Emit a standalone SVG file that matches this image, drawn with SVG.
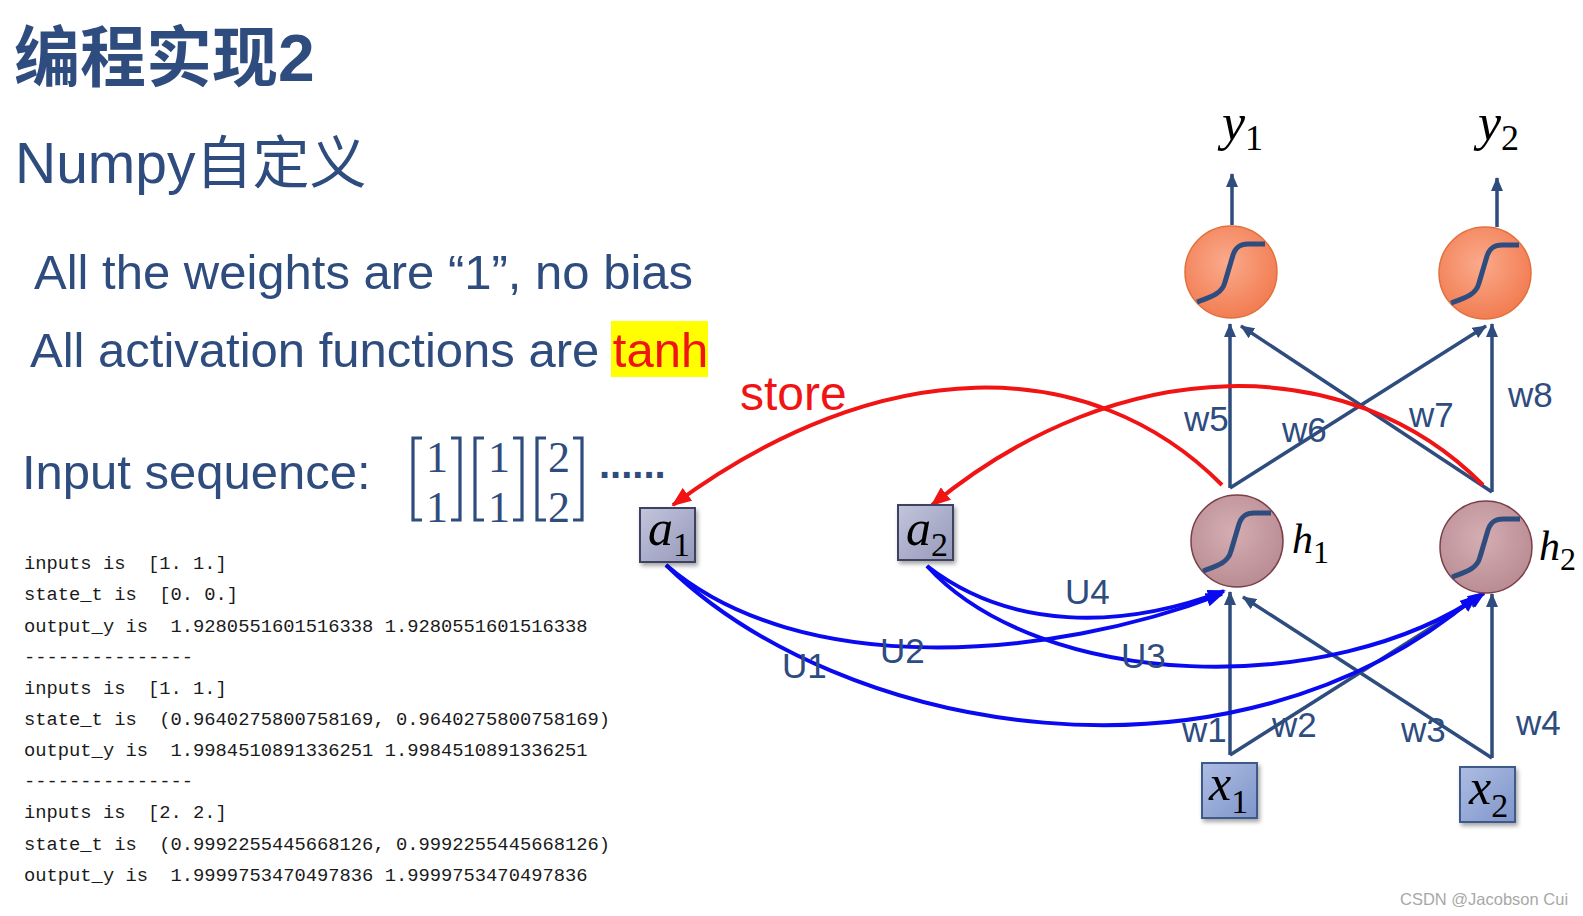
<svg xmlns="http://www.w3.org/2000/svg" width="1583" height="916" viewBox="0 0 1583 916">
<style>
.t{font-family:"Liberation Sans","Noto Sans CJK SC",sans-serif;fill:#2E4C7E}
.code{font-family:"Liberation Mono","DejaVu Sans Mono",monospace;font-size:18.8px;fill:#1a1a1a;white-space:pre}
.m{font-family:"Liberation Serif",serif;fill:#000}
.mi{font-style:italic}
.w{font-family:"Liberation Sans",sans-serif;font-size:35px;fill:#2E4C7E}
.dk{fill:none;stroke:#2E4C7E;stroke-width:3.5}
.red{fill:none;stroke:#F01414;stroke-width:4}
.blu{fill:none;stroke:#0A0AF0;stroke-width:4}
.sig{fill:none;stroke:#2E4C7E;stroke-width:5;stroke-linecap:butt}
.br{fill:none;stroke:#2E4C7E;stroke-width:3.2}
</style>
<defs>
<radialGradient id="gOut" cx="0.45" cy="0.4" r="0.6">
<stop offset="0" stop-color="#FAAA8C"/><stop offset="1" stop-color="#F27D52"/>
</radialGradient>
<radialGradient id="gHid" cx="0.45" cy="0.4" r="0.6">
<stop offset="0" stop-color="#D4AEB2"/><stop offset="1" stop-color="#BA8D94"/>
</radialGradient>
<linearGradient id="gX" x1="0" y1="0" x2="1" y2="1">
<stop offset="0" stop-color="#ADBCE3"/><stop offset="1" stop-color="#7F96CA"/>
</linearGradient>
<linearGradient id="gA" x1="0" y1="0" x2="1" y2="1">
<stop offset="0" stop-color="#C3C5DC"/><stop offset="1" stop-color="#9599BA"/>
</linearGradient>
<filter id="sh" x="-20%" y="-20%" width="150%" height="150%">
<feDropShadow dx="2" dy="3" stdDeviation="2" flood-color="#000" flood-opacity="0.35"/>
</filter>
<path id="sg" d="M -34 30 C -20 25 -9 22 -6 10 L 2 -17 C 5 -26 10 -28 17 -28 L 34 -28"/>
<marker id="aD" viewBox="0 0 14 12" refX="13" refY="6" markerWidth="14" markerHeight="12" markerUnits="userSpaceOnUse" orient="auto">
<path d="M0,0 L14,6 L0,12 z" fill="#2E4C7E"/>
</marker>
<marker id="aR" viewBox="0 0 20 16" refX="18" refY="8" markerWidth="20" markerHeight="16" markerUnits="userSpaceOnUse" orient="auto">
<path d="M0,0 L20,8 L0,16 z" fill="#F01414"/>
</marker>
<marker id="aB" viewBox="0 0 18 14" refX="16" refY="7" markerWidth="18" markerHeight="14" markerUnits="userSpaceOnUse" orient="auto">
<path d="M0,0 L18,7 L0,14 z" fill="#0A0AF0"/>
</marker>
</defs>
<rect width="1583" height="916" fill="#fff"/>

<g id="title">
<text class="t" x="14" y="81" font-size="66" font-weight="700">编程实现2</text>
<text class="t" x="15" y="183" font-size="57">Numpy自定义</text>
</g>

<g id="notes">
<text class="t" x="34" y="289" font-size="49">All the weights are “1”, no bias</text>
<rect x="611" y="321" width="97" height="56" fill="#FFFF00"/>
<text class="t" x="30" y="367" font-size="49">All activation functions are <tspan fill="#F01414">tanh</tspan></text>
<text x="740" y="410" font-family="Liberation Sans,sans-serif" font-size="48" fill="#F01414">store</text>
</g>

<g id="input-sequence">
<text class="t" x="22" y="489" font-size="49">Input sequence:</text>
<path class="br" d="M422 438 H413 V520 H422"/>
<path class="br" d="M451 438 H460 V520 H451"/>
<path class="br" d="M484 438 H475 V520 H484"/>
<path class="br" d="M513 438 H522 V520 H513"/>
<path class="br" d="M546 438 H537 V520 H546"/>
<path class="br" d="M573 438 H582 V520 H573"/>
<g font-family="Liberation Serif,serif" font-size="44" fill="#2E4C7E" text-anchor="middle">
<text x="437" y="472">1</text><text x="437" y="522">1</text>
<text x="499" y="472">1</text><text x="499" y="522">1</text>
<text x="559" y="472">2</text><text x="559" y="522">2</text>
</g>
<text x="599" y="478" font-family="Liberation Sans,sans-serif" font-weight="700" font-size="40" fill="#2E4C7E">......</text>
</g>

<g id="output-log">
<text class="code" x="24" y="569">inputs is  [1. 1.]</text>
<text class="code" x="24" y="600">state_t is  [0. 0.]</text>
<text class="code" x="24" y="632">output_y is  1.9280551601516338 1.9280551601516338</text>
<text class="code" x="24" y="663">---------------</text>
<text class="code" x="24" y="694">inputs is  [1. 1.]</text>
<text class="code" x="24" y="725">state_t is  (0.9640275800758169, 0.9640275800758169)</text>
<text class="code" x="24" y="756">output_y is  1.9984510891336251 1.9984510891336251</text>
<text class="code" x="24" y="787">---------------</text>
<text class="code" x="24" y="818">inputs is  [2. 2.]</text>
<text class="code" x="24" y="850">state_t is  (0.9992255445668126, 0.9992255445668126)</text>
<text class="code" x="24" y="881">output_y is  1.9999753470497836 1.9999753470497836</text>
</g>

<g id="connectors">
<line class="dk" x1="1232" y1="225" x2="1232" y2="174" marker-end="url(#aD)"/>
<line class="dk" x1="1497" y1="227" x2="1497" y2="178" marker-end="url(#aD)"/>
<line class="dk" x1="1230" y1="488" x2="1230" y2="324" marker-end="url(#aD)"/>
<line class="dk" x1="1230" y1="488" x2="1486" y2="326" marker-end="url(#aD)"/>
<line class="dk" x1="1492" y1="492" x2="1492" y2="324" marker-end="url(#aD)"/>
<line class="dk" x1="1492" y1="492" x2="1241" y2="326" marker-end="url(#aD)"/>
<line class="dk" x1="1230" y1="755" x2="1230" y2="592" marker-end="url(#aD)"/>
<line class="dk" x1="1230" y1="755" x2="1481" y2="596" marker-end="url(#aD)"/>
<line class="dk" x1="1492" y1="758" x2="1492" y2="594" marker-end="url(#aD)"/>
<line class="dk" x1="1492" y1="758" x2="1243" y2="597" marker-end="url(#aD)"/>
<path class="red" d="M1222 485 C1090 352 880 352 673 505" marker-end="url(#aR)"/>
<path class="red" d="M1483 485 C1350 350 1120 350 932 505" marker-end="url(#aR)"/>
<path class="blu" d="M666 565 C840 735 1230 805 1476 596" marker-end="url(#aB)"/>
<path class="blu" d="M666 565 C800 680 1050 660 1222 594" marker-end="url(#aB)"/>
<path class="blu" d="M927 566 C1040 690 1330 700 1484 593" marker-end="url(#aB)"/>
<path class="blu" d="M927 566 C1010 630 1120 630 1224 591" marker-end="url(#aB)"/>
</g>

<g id="weight-labels">
<text class="w" x="1184" y="431">w5</text>
<text class="w" x="1282" y="442">w6</text>
<text class="w" x="1409" y="427">w7</text>
<text class="w" x="1508" y="407">w8</text>
<text class="w" x="1182" y="742">w1</text>
<text class="w" x="1272" y="737">w2</text>
<text class="w" x="1401" y="742">w3</text>
<text class="w" x="1516" y="735">w4</text>
<text class="w" x="782" y="678">U1</text>
<text class="w" x="880" y="663">U2</text>
<text class="w" x="1121" y="668">U3</text>
<text class="w" x="1065" y="604">U4</text>
</g>

<g id="y1">
<circle cx="1231" cy="272" r="46" fill="url(#gOut)" stroke="#E2703C" stroke-width="1.5"/>
<use href="#sg" x="1231" y="272" class="sig"/>
<text class="m" x="1222" y="140" font-size="52"><tspan class="mi">y</tspan><tspan font-size="36" dy="10">1</tspan></text>
</g>
<g id="y2">
<circle cx="1485" cy="273" r="46" fill="url(#gOut)" stroke="#E2703C" stroke-width="1.5"/>
<use href="#sg" x="1485" y="273" class="sig"/>
<text class="m" x="1478" y="140" font-size="52"><tspan class="mi">y</tspan><tspan font-size="36" dy="10">2</tspan></text>
</g>
<g id="h1">
<circle cx="1237" cy="541" r="46" fill="url(#gHid)" stroke="#7A3F48" stroke-width="1.5"/>
<use href="#sg" x="1237" y="541" class="sig"/>
<text class="m" x="1292" y="553" font-size="42"><tspan class="mi">h</tspan><tspan font-size="32" dy="10">1</tspan></text>
</g>
<g id="h2">
<circle cx="1486" cy="547" r="46" fill="url(#gHid)" stroke="#7A3F48" stroke-width="1.5"/>
<use href="#sg" x="1486" y="547" class="sig"/>
<text class="m" x="1539" y="560" font-size="42"><tspan class="mi">h</tspan><tspan font-size="32" dy="10">2</tspan></text>
</g>
<g id="a1">
<rect x="640" y="508" width="55" height="54" fill="url(#gA)" stroke="#3E4360" stroke-width="2" filter="url(#sh)"/>
<text class="m" x="648" y="545" font-size="50"><tspan class="mi">a</tspan><tspan font-size="34" dy="11">1</tspan></text>
</g>
<g id="a2">
<rect x="898" y="505" width="55" height="55" fill="url(#gA)" stroke="#3E4360" stroke-width="2" filter="url(#sh)"/>
<text class="m" x="906" y="545" font-size="50"><tspan class="mi">a</tspan><tspan font-size="34" dy="11">2</tspan></text>
</g>
<g id="x1">
<rect x="1202" y="763" width="55" height="55" fill="url(#gX)" stroke="#3D5A8A" stroke-width="2" filter="url(#sh)"/>
<text class="m" x="1209" y="800" font-size="50"><tspan class="mi">x</tspan><tspan font-size="34" dy="13">1</tspan></text>
</g>
<g id="x2">
<rect x="1460" y="767" width="55" height="55" fill="url(#gX)" stroke="#3D5A8A" stroke-width="2" filter="url(#sh)"/>
<text class="m" x="1469" y="804" font-size="50"><tspan class="mi">x</tspan><tspan font-size="34" dy="13">2</tspan></text>
</g>
<text x="1400" y="905" font-family="Liberation Sans,sans-serif" font-size="16.5" fill="#A8A8A8">CSDN @Jacobson Cui</text>
</svg>
